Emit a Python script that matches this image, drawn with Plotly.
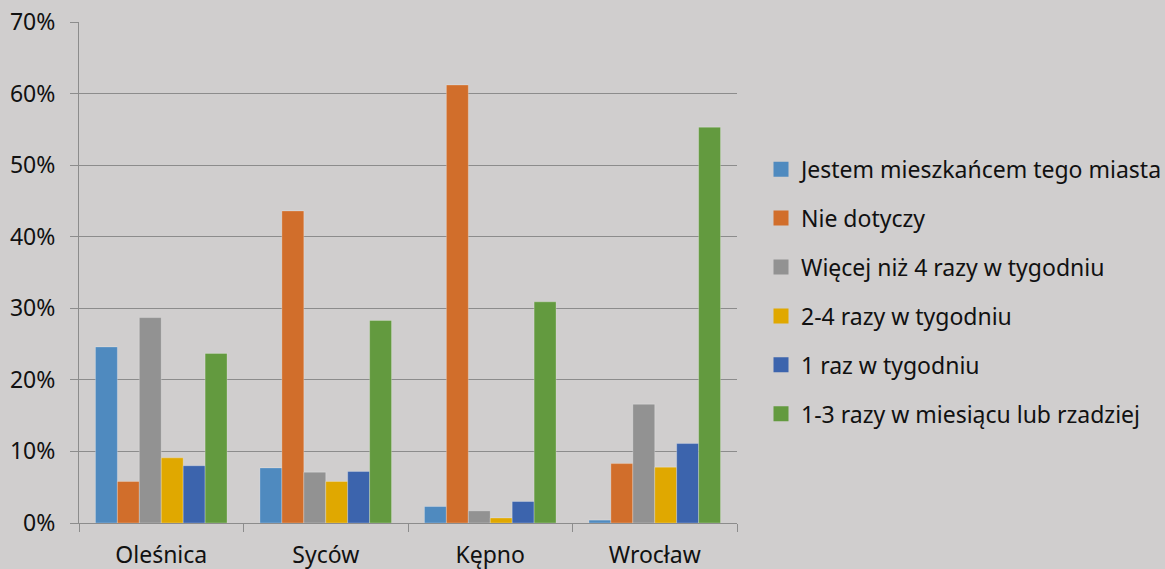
import plotly.graph_objects as go

# Cities (categories on the x axis)
cities = ["Oleśnica", "Syców", "Kępno", "Wrocław"]

# Answer categories (one series each)
series_names = [
    "Jestem mieszkańcem tego miasta",
    "Nie dotyczy",
    "Więcej niż 4 razy w tygodniu",
    "2-4 razy w tygodniu",
    "1 raz w tygodniu",
    "1-3 razy w miesiącu lub rzadziej",
]

# Share of respondents (%) per city, in the order of `cities`
resident = [24.6, 7.7, 2.3, 0.4]
not_applicable = [5.8, 43.6, 61.2, 8.3]
more_than_4_week = [28.7, 7.1, 1.7, 16.6]
two_to_4_week = [9.1, 5.8, 0.7, 7.8]
once_week = [8.0, 7.2, 3.0, 11.1]
monthly_or_less = [23.7, 28.3, 30.9, 55.3]

series_values = [
    resident,
    not_applicable,
    more_than_4_week,
    two_to_4_week,
    once_week,
    monthly_or_less,
]

colors = ["#4f8abf", "#d16e2b", "#929292", "#e0a800", "#3c64ad", "#639a3f"]

BG = "#d0cece"
GRID = "#8c8c8c"
FONT = "Noto Sans"
TEXT = "#111111"

fig = go.Figure()

for name, vals, col in zip(series_names, series_values, colors):
    fig.add_trace(
        go.Bar(
            x=cities,
            y=vals,
            name=name,
            marker=dict(color=col, line=dict(color="rgba(255,255,255,0.25)", width=1)),
            showlegend=False,
        )
    )

# Legend entries with square swatches
for i, (name, col) in enumerate(zip(series_names, colors)):
    fig.add_trace(
        go.Scatter(
            x=[None],
            y=[None],
            mode="markers",
            name=name,
            marker=dict(symbol="square", size=15, color=col),
            legendgroup=f"g{i}",
        )
    )

fig.update_layout(
    width=1165,
    height=569,
    paper_bgcolor=BG,
    plot_bgcolor=BG,
    barmode="group",
    bargap=0.2,
    bargroupgap=0,
    margin=dict(l=79, r=428, t=22, b=46, autoexpand=False),
    font=dict(family=FONT, size=23, color=TEXT),
    legend=dict(
        x=761 / 1165,
        xref="container",
        y=1 - 290 / 569,
        yref="container",
        yanchor="middle",
        xanchor="left",
        bgcolor="rgba(0,0,0,0)",
        font=dict(family=FONT, size=23, color=TEXT),
        tracegroupgap=16,
        itemwidth=30,
    ),
)

fig.update_yaxes(
    range=[0, 70],
    dtick=10,
    ticksuffix="%",
    showgrid=True,
    gridcolor=GRID,
    gridwidth=1,
    showline=True,
    linecolor=GRID,
    linewidth=1,
    ticks="outside",
    ticklen=8,
    tickcolor=GRID,
    zeroline=False,
    ticklabelstandoff=10,
    automargin=False,
    fixedrange=True,
)

fig.update_xaxes(
    showline=True,
    linecolor=GRID,
    linewidth=1,
    ticks="outside",
    tickson="boundaries",
    ticklen=8,
    tickcolor=GRID,
    showgrid=False,
    ticklabelstandoff=11,
    automargin=False,
    fixedrange=True,
)

fig.write_html("out.html")
